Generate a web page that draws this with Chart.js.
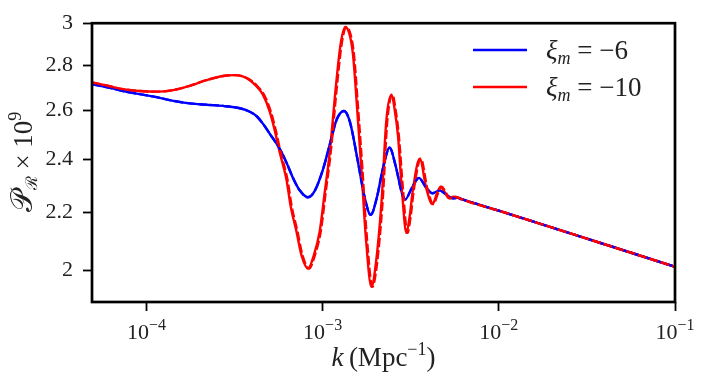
<!DOCTYPE html>
<html>
<head>
<meta charset="utf-8">
<script src="https://cdn.jsdelivr.net/npm/chart.js@4.4.0/dist/chart.umd.min.js"></script>
<style>
html, body { margin: 0; padding: 0; background: #fff; }
canvas { display: block; }
</style>
</head>
<body>
<canvas id="chart" width="706" height="388"></canvas>
<script>
'use strict'

// xi_m = -6 (blue)
const kBlue = [4.91e-5, 6.19e-5, 7.37e-5, 9.16e-5, 1.14e-4, 1.42e-4, 1.76e-4, 2.19e-4, 2.72e-4, 3.39e-4,
	3.86e-4, 4.21e-4, 4.59e-4, 5.01e-4, 5.71e-4, 6.23e-4, 6.80e-4, 7.41e-4, 8.26e-4, 9.02e-4,
	1.005e-3, 1.097e-3, 1.202e-3, 1.322e-3, 1.426e-3, 1.589e-3, 1.734e-3, 1.875e-3, 2.03e-3, 2.20e-3,
	2.40e-3, 2.60e-3, 2.81e-3, 2.94e-3, 3.21e-3, 3.52e-3, 3.85e-3, 4.21e-3, 4.62e-3, 5.00e-3,
	5.48e-3, 5.85e-3, 6.15e-3, 1.01e-2, 3.74e-2, 0.1];
const pBlue = [2.714, 2.698, 2.684, 2.670, 2.657, 2.641, 2.630, 2.624, 2.619, 2.609,
	2.594, 2.576, 2.543, 2.502, 2.441, 2.387, 2.326, 2.280, 2.254, 2.278,
	2.360, 2.457, 2.561, 2.597, 2.553, 2.387, 2.252, 2.190, 2.252, 2.364,
	2.445, 2.372, 2.273, 2.246, 2.289, 2.327, 2.292, 2.269, 2.280, 2.265,
	2.250, 2.252, 2.247, 2.204, 2.092, 2.011];

// xi_m = -10 (red)
const kRed = [4.91e-5, 6.19e-5, 7.37e-5, 9.16e-5, 1.14e-4, 1.42e-4, 1.76e-4, 2.19e-4, 2.72e-4, 3.17e-4,
	3.52e-4, 3.86e-4, 4.21e-4, 4.59e-4, 5.01e-4, 5.35e-4, 5.71e-4, 6.23e-4, 6.59e-4, 7.10e-4,
	7.59e-4, 8.26e-4, 8.91e-4, 9.63e-4, 1.028e-3, 1.097e-3, 1.197e-3, 1.268e-3, 1.346e-3, 1.426e-3,
	1.488e-3, 1.563e-3, 1.660e-3, 1.757e-3, 1.892e-3, 2.00e-3, 2.16e-3, 2.30e-3, 2.46e-3, 2.56e-3,
	2.68e-3, 2.81e-3, 2.99e-3, 3.12e-3, 3.26e-3, 3.56e-3, 3.88e-3, 4.20e-3, 4.45e-3, 4.68e-3,
	4.93e-3, 5.22e-3, 5.51e-3, 5.82e-3, 6.15e-3, 1.01e-2, 3.74e-2, 0.1];
const pRed = [2.722, 2.705, 2.692, 2.684, 2.681, 2.688, 2.707, 2.732, 2.751, 2.755,
	2.749, 2.732, 2.705, 2.667, 2.595, 2.516, 2.426, 2.322, 2.220, 2.132,
	2.049, 2.005, 2.049, 2.132, 2.273, 2.426, 2.727, 2.904, 2.981, 2.941,
	2.848, 2.628, 2.361, 2.115, 1.946, 2.016, 2.238, 2.558, 2.668, 2.607,
	2.491, 2.293, 2.126, 2.185, 2.286, 2.402, 2.286, 2.229, 2.267, 2.294,
	2.273, 2.250, 2.256, 2.253, 2.247, 2.204, 2.092, 2.011];
// dashed red sits a hair to the right in the wiggles
const kRedDash = [4.91e-5, 6.19e-5, 7.37e-5, 9.16e-5, 1.14e-4, 1.42e-4, 1.76e-4, 2.19e-4, 2.72e-4, 3.17e-4,
	3.52e-4, 3.91e-4, 4.26e-4, 4.65e-4, 5.08e-4, 5.42e-4, 5.78e-4, 6.31e-4, 6.68e-4, 7.19e-4,
	7.69e-4, 8.37e-4, 9.03e-4, 9.76e-4, 1.041e-3, 1.111e-3, 1.213e-3, 1.285e-3, 1.364e-3, 1.445e-3,
	1.507e-3, 1.583e-3, 1.682e-3, 1.780e-3, 1.917e-3, 2.03e-3, 2.19e-3, 2.33e-3, 2.49e-3, 2.59e-3,
	2.71e-3, 2.85e-3, 3.03e-3, 3.16e-3, 3.30e-3, 3.61e-3, 3.93e-3, 4.25e-3, 4.51e-3, 4.74e-3,
	4.99e-3, 5.29e-3, 5.58e-3, 5.89e-3, 6.15e-3, 1.01e-2, 3.74e-2, 0.1];

const xTicks = [1e-4, 1e-3, 1e-2, 1e-1];
const xTickExp = ['\u22124', '\u22123', '\u22122', '\u22121'];
const yTicks = [2, 2.2, 2.4, 2.6, 2.8, 3];
const yTickLabels = ['2', '2.2', '2.4', '2.6', '2.8', '3'];
const legendValues = ['\u22126', '\u221210'];

const serif = "'Liberation Serif', 'DejaVu Serif', serif";
const BLUE = '#0000ff';
const RED = '#ff0000';

function toPoints(ks, ps){
	return ks.map((k, i) => ({ x: k, y: ps[i] }));
}

// draw a run of text pieces [text, font, dy] centred or left aligned
function drawRun(ctx, parts, x, y, align){
	let w = 0;
	parts.forEach(p => { ctx.font = p[1]; w += ctx.measureText(p[0]).width; });
	let cx = align === 'center' ? x - w / 2 : x;
	ctx.textAlign = 'left';
	parts.forEach(p => {
		ctx.font = p[1];
		ctx.fillText(p[0], cx, y + p[2]);
		cx += ctx.measureText(p[0]).width;
	});
}

const textPlugin = {
	id: 'textPlugin',
	afterDraw(chart){
		const ctx = chart.ctx;
		const a = chart.chartArea;
		const xs = chart.scales.x;
		ctx.save();
		// box
		ctx.strokeStyle = '#000';
		ctx.lineWidth = 2.7;
		ctx.strokeRect(a.left, a.top, a.right - a.left, a.bottom - a.top);

		ctx.fillStyle = '#222';
		ctx.textBaseline = 'alphabetic';
		// x tick labels 10^n
		xTicks.forEach((v, i) => {
			const px = xs.getPixelForValue(v);
			drawRun(ctx, [['10', '22px ' + serif, 0], [xTickExp[i], '16px ' + serif, -9]], px, 339, 'center');
		});
		// x title
		drawRun(ctx, [
			['k', 'italic 27px ' + serif, 0],
			['\u2009(Mpc', '27px ' + serif, 0],
			['\u22121', '18px ' + serif, -11],
			[')', '27px ' + serif, 0]
		], (a.left + a.right) / 2, 366, 'center');
		// y title
		ctx.save();
		ctx.translate(32, 162);
		ctx.rotate(-Math.PI / 2);
		drawRun(ctx, [
			['\uD835\uDCAB', '30px ' + serif, 0],
			['\u211B', '16px ' + serif, 5],
			[' \u00D7 10', '27px ' + serif, 0],
			['9', '18px ' + serif, -11]
		], 0, 0, 'center');
		ctx.restore();
		// legend
		const rows = [[BLUE, 50], [RED, 87]];
		rows.forEach((r, i) => {
			ctx.strokeStyle = r[0];
			ctx.lineWidth = 2.5;
			ctx.beginPath();
			ctx.moveTo(473, r[1]);
			ctx.lineTo(527, r[1]);
			ctx.stroke();
			drawRun(ctx, [
				['\u03BE', 'italic 27px ' + serif, 0],
				['m', 'italic 18px ' + serif, 5],
				[' = ' + legendValues[i], '27px ' + serif, 0]
			], 546, r[1] + 9, 'left');
		});
		ctx.restore();
	}
};

const lineBase = {
	pointRadius: 0,
	borderWidth: 2.4,
	fill: false,
	cubicInterpolationMode: 'monotone'
};

new Chart(document.getElementById('chart'), {
	type: 'line',
	data: {
		datasets: [
			// first dataset is drawn on top
			Object.assign({ data: toPoints(kRedDash, pRed), borderColor: RED, borderDash: [9, 3] }, lineBase),
			Object.assign({ data: toPoints(kBlue, pBlue), borderColor: BLUE, borderDash: [9, 3] }, lineBase),
			Object.assign({ data: toPoints(kRed, pRed), borderColor: RED }, lineBase),
			Object.assign({ data: toPoints(kBlue, pBlue), borderColor: BLUE }, lineBase)
		]
	},
	options: {
		responsive: false,
		animation: false,
		devicePixelRatio: 1,
		layout: { padding: { top: 18, right: 31, left: 0, bottom: 0 } },
		plugins: { legend: { display: false }, tooltip: { enabled: false } },
		scales: {
			x: {
				type: 'logarithmic',
				min: 4.91e-5,
				max: 0.1,
				afterBuildTicks: (scale) => { scale.ticks = xTicks.map(v => ({ value: v })); },
				afterFit: (scale) => { scale.height = 86; },
				ticks: { color: 'rgba(0,0,0,0)', callback: (v, i) => '10^' + xTickExp[i], font: { family: serif, size: 22 } },
				grid: { drawOnChartArea: false, drawTicks: true, tickLength: 9, tickWidth: 1.8, tickColor: '#000' },
				border: { display: false }
			},
			y: {
				type: 'logarithmic',
				min: 1.898,
				max: 3,
				afterBuildTicks: (scale) => { scale.ticks = yTicks.map(v => ({ value: v })); },
				afterFit: (scale) => { scale.width = 92; },
				ticks: {
					color: '#222',
					padding: 10,
					font: { family: serif, size: 22 },
					callback: (v, i) => yTickLabels[i]
				},
				grid: { drawOnChartArea: false, drawTicks: true, tickLength: 9, tickWidth: 1.8, tickColor: '#000' },
				border: { display: false }
			}
		}
	},
	plugins: [textPlugin]
});
</script>
</body>
</html>
